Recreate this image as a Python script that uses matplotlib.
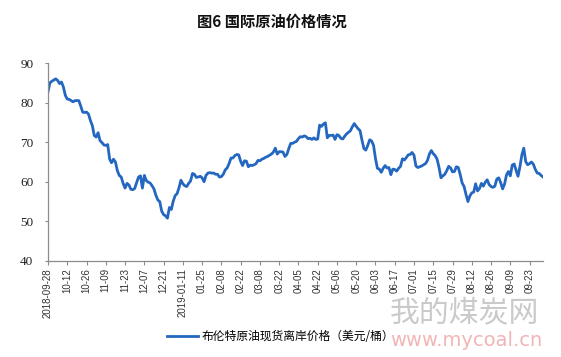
import matplotlib
matplotlib.use("Agg")
import matplotlib.pyplot as plt
import numpy as np

plt.rcParams['font.family'] = ['Noto Sans CJK SC', 'DejaVu Sans']

title = "图6 国际原油价格情况"
series_name = "布伦特原油现货离岸价格（美元/桶）"

tick_labels = ["2018-09-28", "10-12", "10-26", "11-09", "11-23", "12-07", "12-21",
               "2019-01-11", "01-25", "02-08", "02-22", "03-08", "03-22", "04-05",
               "04-22", "05-06", "05-20", "06-03", "06-17", "07-01", "07-15",
               "07-29", "08-12", "08-26", "09-09", "09-23"]
tick_step = 10

brent = [
    82.8, 85.0, 85.4, 85.7, 86.0, 85.6, 84.8, 85.2, 83.9, 81.8,
    80.9, 80.8, 80.5, 80.2, 80.5, 80.5, 80.5, 79.1, 77.6, 77.5,
    77.6, 77.1, 75.5, 74.2, 71.7, 71.3, 72.4, 70.4, 69.9, 69.3,
    69.2, 69.4, 65.7, 64.8, 65.7, 65.0, 62.8, 61.6, 61.2, 59.6,
    58.4, 59.6, 59.2, 58.1, 58.0, 58.3, 59.8, 61.2, 61.5, 58.4,
    61.6, 60.3, 59.9, 59.7, 59.0, 58.2, 56.6, 55.4, 55.0, 52.6,
    51.7, 51.4, 50.8, 53.5, 53.0, 55.1, 56.5, 57.0, 58.5, 60.4,
    59.5, 59.0, 58.8, 59.6, 60.2, 62.1, 61.9, 61.1, 61.2, 61.4,
    61.0, 60.0, 61.6, 62.2, 62.3, 62.2, 62.2, 61.9, 61.9, 61.2,
    61.3, 61.9, 63.0, 63.5, 64.6, 66.0, 66.0, 66.6, 66.9, 66.8,
    65.2, 64.1, 65.3, 65.2, 63.8, 64.2, 64.1, 64.3, 64.6, 65.4,
    65.3, 65.7, 65.9, 66.2, 66.4, 66.7, 67.0, 67.5, 68.5, 67.0,
    67.6, 67.6, 67.5, 66.4, 66.9, 68.4, 69.7, 69.7, 70.0, 70.2,
    70.9, 71.4, 71.3, 71.6, 71.4, 70.9, 71.0, 70.7, 71.1, 70.7,
    70.8, 74.3, 74.0, 74.6, 74.9, 71.1, 71.7, 71.7, 71.8, 70.7,
    71.9, 71.7, 71.0, 70.8, 71.5, 72.1, 72.5, 72.9, 73.9, 74.7,
    74.0, 73.4, 72.9, 70.5, 68.4, 68.0, 69.2, 70.6, 70.3, 69.2,
    65.9, 63.4, 63.2, 62.4, 63.4, 64.1, 63.5, 63.6, 61.8, 63.2,
    63.1, 62.7, 63.4, 63.9, 65.8, 65.5, 66.1, 66.8, 66.9, 67.4,
    66.7, 64.0, 63.6, 63.8, 64.0, 64.3, 64.6, 65.4, 67.0, 67.9,
    67.1, 66.6, 65.7, 63.6, 61.0, 61.5, 61.9, 62.8, 63.9, 63.5,
    62.5, 62.6, 63.8, 63.6, 61.8, 59.7, 58.8, 56.8, 55.0, 56.4,
    57.2, 57.4, 59.5, 57.7, 58.3, 59.6, 58.9, 59.9, 60.5, 59.3,
    58.8, 58.6, 58.9, 60.7, 61.0, 59.8, 58.2, 59.4, 61.7, 62.6,
    61.5, 64.2, 64.5, 62.9, 61.4, 63.8, 66.8, 68.5, 65.1, 64.3,
    64.6, 65.0, 64.4, 63.1, 62.2, 62.1, 61.6, 61.2,
]

fig = plt.figure(figsize=(5.61, 3.57), dpi=100)
ax = fig.add_axes([0.0856, 0.269, 0.8824, 0.5545])

x = np.arange(len(brent))
line, = ax.plot(x, brent, color="#2467C1", linewidth=2.0, solid_joinstyle="round")

ax.set_ylim(40, 90)
ax.set_yticks([40, 50, 60, 70, 80, 90])
ax.set_xlim(0, len(brent) - 1)
ax.set_xticks(np.arange(0, len(tick_labels) * tick_step, tick_step))
ax.set_xticklabels(tick_labels, rotation=90, fontsize=7,
                   family=['Liberation Sans', 'DejaVu Sans'], color="#333333")
for lab in ax.get_yticklabels():
    lab.set_family(['Liberation Serif', 'DejaVu Serif'])
    lab.set_fontsize(9.5)
    lab.set_color("#222222")

for s in ["top", "right"]:
    ax.spines[s].set_visible(False)
for s in ["left", "bottom"]:
    ax.spines[s].set_color("#8c8c8c")
    ax.spines[s].set_linewidth(0.9)
ax.tick_params(axis="x", direction="out", length=3, width=0.8, color="#8c8c8c", pad=2)
ax.tick_params(axis="y", direction="out", length=2.5, width=0.8, color="#8c8c8c", pad=8)

fig.text(0.485, 0.94, title, ha="center", va="center", fontsize=11, fontweight="bold",
         color="#111111")

fig.legend([line], [series_name], loc="center", bbox_to_anchor=(0.5, 0.058),
           frameon=False, fontsize=8.5, handlelength=2.6, handletextpad=0.3)

# watermark
fig.text(0.695, 0.125, "我的煤炭网", ha="left", va="center", fontsize=21.5,
         color="#bdbdbd", alpha=0.8)
fig.text(0.695, 0.045, "www.mycoal.cn", ha="left", va="center", fontsize=14,
         color="#f0a8a8", alpha=0.85, family=['DejaVu Sans'])

fig.savefig("out.png", dpi=100)
